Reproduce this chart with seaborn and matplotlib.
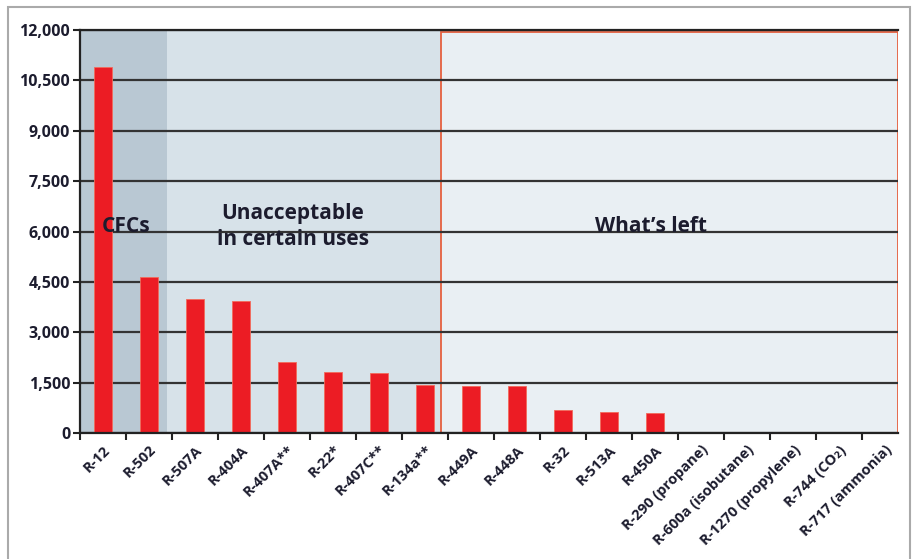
import numpy as np
import matplotlib
matplotlib.use("Agg")
import matplotlib.pyplot as plt
from matplotlib.patches import Rectangle
import seaborn as sns

# ── Data ─────────────────────────────────────────────────────────────────────
refrigerants = [
    "R-12", "R-502", "R-507A", "R-404A", "R-407A**", "R-22*", "R-407C**",
    "R-134a**", "R-449A", "R-448A", "R-32", "R-513A", "R-450A",
    "R-290 (propane)", "R-600a (isobutane)", "R-1270 (propylene)",
    "R-744 (CO\u2082)", "R-717 (ammonia)",
]
gwp = [10900, 4657, 3985, 3922, 2107, 1810, 1774, 1430, 1397, 1387,
       675, 631, 605, 3, 3, 2, 1, 0]
y_ticks = [0, 1500, 3000, 4500, 6000, 7500, 9000, 10500, 12000]

groups = ["CFCs", "Unacceptable\nin certain uses", "What\u2019s left"]
group_edges = [-0.5, 1.4, 7.35, 17.28]

# ── Style ────────────────────────────────────────────────────────────────────
sns.set_style("white")
plt.rcParams["font.family"] = ["Open Sans", "DejaVu Sans"]
TXT = "#1c1c2e"

fig = plt.figure(figsize=(9.13, 5.59), dpi=100)
ax = fig.add_axes([0.0876, 0.2254, 0.896, 0.7209])

# panel backgrounds
ax.axvspan(group_edges[0], group_edges[1], color="#b9c8d3", zorder=0.2, lw=0)
ax.axvspan(group_edges[1], group_edges[2], color="#d7e2e9", zorder=0.2, lw=0)
ax.add_patch(Rectangle((group_edges[2], 0), group_edges[3] - group_edges[2],
                       11950, facecolor="#e9eff3", edgecolor="#e5603f",
                       lw=1.3, zorder=0.3))

sns.barplot(x=refrigerants, y=gwp, color="#ec1c24", width=0.4,
            saturation=1, edgecolor="#f26a5a", linewidth=0.6, ax=ax)

ax.set_xlim(group_edges[0], group_edges[3])
ax.set_ylim(0, 12000)
ax.set_yticks(y_ticks)
ax.set_yticklabels([f"{v:,}" for v in y_ticks], fontsize=11.5,
                   fontweight="bold", color=TXT)
ax.yaxis.grid(True, color="#333333", lw=1.6)
ax.set_axisbelow(True)

ax.set_xticks(np.arange(len(refrigerants)))
ax.set_xticklabels(refrigerants, rotation=45, ha="right",
                   rotation_mode="anchor", fontsize=10.5, fontweight="bold",
                   color=TXT)
ax.set_xticks(np.arange(-0.5, len(refrigerants) - 1), minor=True)
ax.tick_params(axis="x", which="major", bottom=True, length=0, pad=7)
ax.tick_params(axis="x", which="minor", bottom=True, length=5, width=1.5,
               direction="out", color="#222222")
ax.tick_params(axis="y", left=True, length=5, width=1.5, direction="out",
               color="#222222", pad=2)

ax.spines["right"].set_visible(False)
for side in ["left", "bottom", "top"]:
    ax.spines[side].set_color("#222222")
    ax.spines[side].set_linewidth(1.6)

# group titles
centers = [0.5 * (group_edges[0] + group_edges[1]) + 0.05,
           0.5 * (group_edges[1] + group_edges[2]) - 0.25,
           0.5 * (group_edges[2] + group_edges[3]) - 0.4]
for name, cx in zip(groups, centers):
    ax.text(cx, 6150, name, ha="center", va="center", fontsize=15,
            fontweight="bold", color=TXT, linespacing=1.3, zorder=5)

# outer frame
fig.patches.append(Rectangle((8 / 913, -0.1), 902 / 913, 1.1 - 7 / 559,
                             transform=fig.transFigure, fill=False,
                             edgecolor="#aaaaaa", lw=1.5))

fig.savefig("out.png", dpi=100)
